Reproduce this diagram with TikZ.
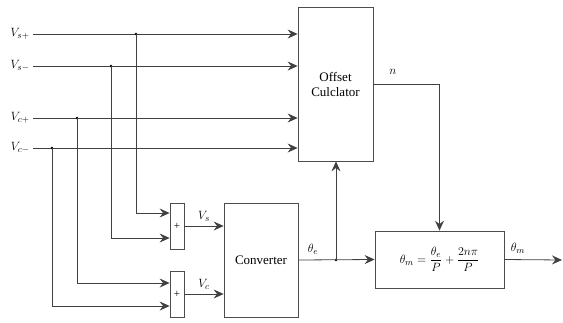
\documentclass[tikz,border=0pt]{standalone}
\usepackage{amsmath}
\usepackage{fontspec}
\setmainfont{Liberation Serif}
\usetikzlibrary{calc,arrows.meta,positioning}
\tikzset{
    blk/.style = {draw = black!70, line width = 0.8pt, inner sep = 0pt, align = center},
    wire/.style = {draw = black!75, line width = 0.8pt},
    arr/.style = {wire, -{Stealth[length = 10pt, width = 9pt, inset = 3.5pt]}},
    jdot/.style = {circle, fill = black, inner sep = 0pt, minimum size = 2.8pt},
}
\begin{document}
\begin{tikzpicture}[x = 1pt, y = -1pt, font = \fontsize{13}{15}\selectfont]
            \useasboundingbox(0,0)rectangle(563,322);
            % blocks
            \node[blk, minimum width = 75pt, minimum height = 154pt](off)at(335.5,84){Offset\\Culclator};
            \node[blk, minimum width = 74pt, minimum height = 114pt](conv)at(261,260){Converter};
            \node[blk, minimum width = 129pt, minimum height = 57pt](form)at(439.5,259.5)
                {$\theta_m = \dfrac{\theta_e}{P} + \dfrac{2n\pi}{P}$};
            % adders
            \node[blk, minimum width = 14pt, minimum height = 46pt, font = \fontsize{11}{12}\selectfont](sum1)at(177,226){+};
            \node[blk, minimum width = 14pt, minimum height = 46pt, font = \fontsize{11}{12}\selectfont](sum2)at(177,294){+};
            % inputs
            \node[anchor = east](vsp)at(33,34){$V_{s+}$};
            \node[anchor = east](vsm)at(33,66){$V_{s-}$};
            \node[anchor = east](vcp)at(33,118){$V_{c+}$};
            \node[anchor = east](vcm)at(33,148){$V_{c-}$};
            \path[arr](vsp.east)--(vsp.east -| off.west);
            \path[arr](vsm.east)--(vsm.east -| off.west);
            \path[arr](vcp.east)--(vcp.east -| off.west);
            \path[arr](vcm.east)--(vcm.east -| off.west);
            % branch points
            \coordinate(jsp)at(136,34);
            \coordinate(jsm)at(111,66);
            \coordinate(jcp)at(77,118);
            \coordinate(jcm)at(52,148);
            \foreach \j in {jsp,jsm,jcp,jcm}{\node[jdot]at(\j){};}
            \path[arr](jsp)|-($(sum1.west)+(0,-13)$);
            \path[arr](jsm)|-($(sum1.west)+(0,12)$);
            \path[arr](jcp)|-($(sum2.west)+(0,-11)$);
            \path[arr](jcm)|-($(sum2.west)+(0,12)$);
            % adder outputs
            \path[arr](sum1.east)--(sum1.east -| conv.west)node[midway, above = 1pt]{$V_s$};
            \path[arr](sum2.east)--(sum2.east -| conv.west)node[midway, above = 1pt]{$V_c$};
            % theta_e
            \coordinate(je)at(336,260);
            \node[jdot]at(je){};
            \path[arr](conv.east)--(form.west);
            \node(te)at(313,249){$\theta_e$};
            \path[arr](je)--(je |- off.south);
            % n
            \path[arr](off.east)-|(form.north);
            \node(nn)at(393,72){$n$};
            % output
            \coordinate(out)at(562,260);
            \path[arr](form.east)--(out);
            \node(tm)at(518,248){$\theta_m$};
        \end{tikzpicture}
\end{document}
